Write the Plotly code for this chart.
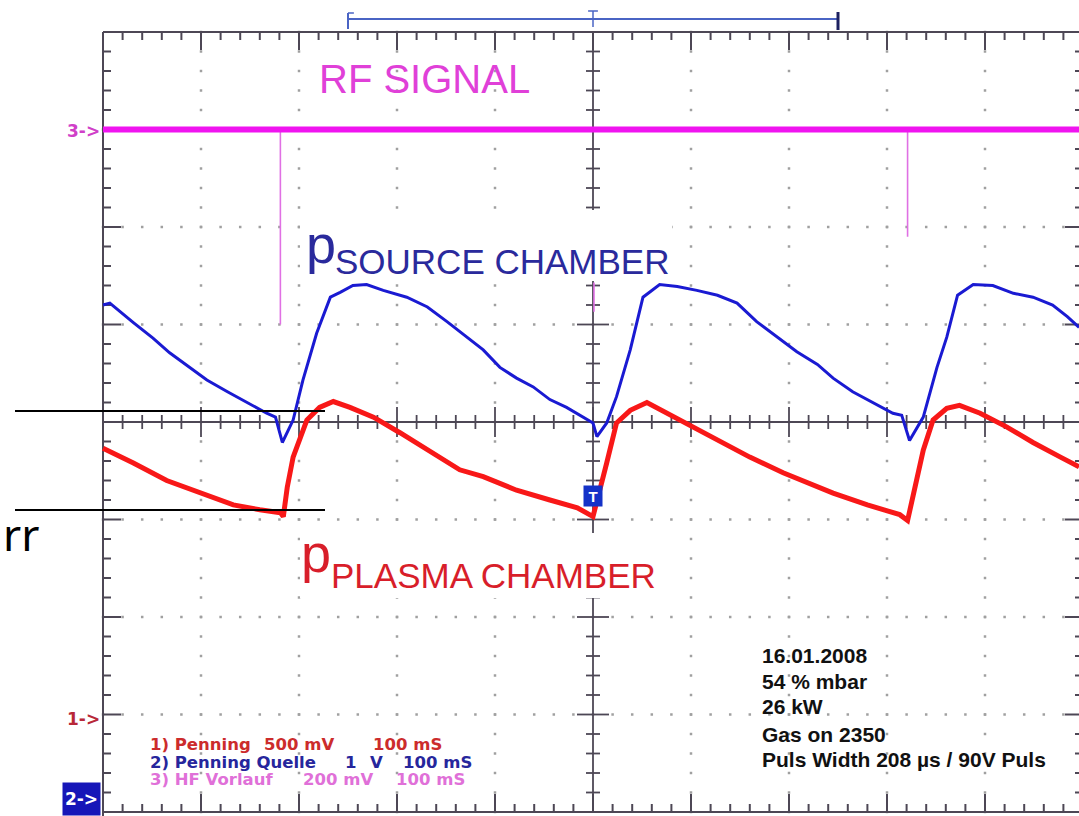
import numpy as np
import plotly.graph_objects as go

# ---------------- data (screen divisions: x = time div, y = vertical div) -------------
blue_x = [0.00, 0.07, 0.31, 0.51, 0.68, 0.89, 1.06, 1.27, 1.47, 1.67, 1.76, 1.83, 1.94, 2.04,
          2.18, 2.32, 2.42, 2.55, 2.69, 2.86, 3.10, 3.31, 3.51, 3.71, 3.88, 4.05, 4.22, 4.39,
          4.56, 4.73, 4.90, 5.00, 5.04, 5.14, 5.24, 5.38, 5.51, 5.68, 5.86, 6.06, 6.27, 6.47,
          6.67, 6.88, 7.08, 7.29, 7.45, 7.65, 7.86, 8.06, 8.15, 8.23, 8.37, 8.51, 8.61, 8.72,
          8.88, 9.08, 9.29, 9.49, 9.69, 9.84, 9.96]
blue_y = [1.20, 1.22, 1.02, 0.86, 0.71, 0.56, 0.43, 0.31, 0.20, 0.09, 0.05, -0.21, 0.02, 0.43,
          0.91, 1.28, 1.33, 1.40, 1.41, 1.35, 1.28, 1.18, 1.03, 0.87, 0.74, 0.56, 0.45, 0.36,
          0.23, 0.15, 0.05, -0.01, -0.15, -0.01, 0.26, 0.74, 1.28, 1.41, 1.39, 1.35, 1.30, 1.22,
          1.03, 0.87, 0.72, 0.59, 0.45, 0.31, 0.20, 0.09, 0.07, -0.19, 0.05, 0.56, 0.87, 1.30,
          1.41, 1.40, 1.32, 1.28, 1.20, 1.08, 0.97]

red_x = [0.00, 0.31, 0.65, 0.99, 1.33, 1.60, 1.81, 1.84, 1.88, 1.94, 2.08, 2.21, 2.35, 2.52,
         2.76, 3.03, 3.31, 3.64, 3.88, 4.22, 4.56, 4.84, 5.00, 5.04, 5.14, 5.24, 5.38, 5.55,
         5.76, 5.99, 6.27, 6.60, 6.94, 7.11, 7.45, 7.80, 8.13, 8.21, 8.27, 8.37, 8.47, 8.61,
         8.74, 8.95, 9.22, 9.49, 9.77, 9.96]
red_y = [-0.27, -0.42, -0.60, -0.73, -0.85, -0.90, -0.93, -0.97, -0.67, -0.36, 0.02, 0.15, 0.21,
         0.15, 0.05, -0.11, -0.29, -0.49, -0.56, -0.70, -0.80, -0.88, -0.97, -0.80, -0.42, -0.01,
         0.12, 0.20, 0.09, -0.03, -0.19, -0.36, -0.52, -0.59, -0.73, -0.85, -0.95, -1.01, -0.73,
         -0.29, 0.02, 0.14, 0.17, 0.09, -0.05, -0.21, -0.36, -0.46]

rf_x = [0.00, 9.96]
rf_y = [3.00, 3.00]
spike_x = [1.81, 5.01, 8.21]
spike_top = [3.00, 1.43, 3.00]
spike_bottom = [1.00, 1.13, 1.90]

legend_lines = [
    (["1) Penning", "500 mV", "100 mS"], [0.46, 1.62, 2.73], "#cc2c2c"),
    (["2) Penning Quelle", "1", "V", "100 mS"], [0.46, 2.45, 2.70, 3.04], "#26269c"),
    (["3) HF Vorlauf", "200 mV", "100 mS"], [0.46, 2.02, 2.97], "#e070d8"),
]
legend_y = [-3.31, -3.49, -3.67]

info_lines = ["16.01.2008", "54 % mbar", "26 kW", "Gas on 2350", "Puls Width 208 µs / 90V Puls"]
info_y = [-2.39, -2.66, -2.92, -3.20, -3.46]

# ---------------- geometry ----------------
PXX, PXY = 98.0, 97.5           # pixels per division
XR = [-103 / PXX, 976 / PXX]
YR = [-394 / PXY, 422 / PXY]
NDX, NDY = 10, 4
FRAME = "#4d4755"
DOT = "#a0a0a0"

fig = go.Figure()

# dotted graticule
dx, dy = [], []
minor_y = np.round(np.arange(-NDY, NDY + 1e-9, 0.2), 2)
minor_x = np.round(np.arange(0, NDX + 1e-9, 0.2), 2)
for gx in [1, 2, 3, 4, 6, 7, 8, 9]:
    for v in minor_y:
        dx.append(gx); dy.append(v)
for gy in [-3, -2, -1, 1, 2, 3]:
    for v in minor_x:
        dx.append(v); dy.append(gy)
fig.add_trace(go.Scatter(x=dx, y=dy, mode="markers", hoverinfo="skip",
                         marker=dict(symbol="square", size=2.5, color=DOT, line=dict(width=0))))

# frame + ticks
fx, fy = [], []
def seg(x0, y0, x1, y1):
    fx.extend([x0, x1, None]); fy.extend([y0, y1, None])

seg(0, -NDY - 0.2, 0, NDY)
seg(0, NDY, NDX, NDY)
seg(0, -NDY, NDX, -NDY)
seg(NDX, -NDY, NDX, NDY)
for v in minor_y:
    L = 18 if abs(v - round(v)) < 1e-6 else 8
    seg(0, v, L / PXX, v)
    seg(NDX, v, NDX - L / PXX, v)
for v in minor_x:
    L = 18 if abs(v - round(v)) < 1e-6 else 8
    seg(v, NDY, v, NDY - L / PXY)
    seg(v, -NDY, v, -NDY + L / PXY)
fig.add_trace(go.Scatter(x=fx, y=fy, mode="lines", hoverinfo="skip",
                         line=dict(color=FRAME, width=2)))

# centre axes
cx, cy = [], []
def cseg(x0, y0, x1, y1):
    cx.extend([x0, x1, None]); cy.extend([y0, y1, None])
cseg(NDX / 2, -NDY, NDX / 2, NDY)
cseg(0, 0, NDX, 0)
for v in minor_y:
    L = 16 if abs(v - round(v)) < 1e-6 else 7
    cseg(NDX / 2 - L / PXX, v, NDX / 2 + L / PXX, v)
for v in minor_x:
    L = 15 if abs(v - round(v)) < 1e-6 else 7
    cseg(v, -L / PXY, v, L / PXY)
fig.add_trace(go.Scatter(x=cx, y=cy, mode="lines", hoverinfo="skip",
                         line=dict(color=FRAME, width=1.8)))

# RF signal
sx, sy = [], []
for x, t, b in zip(spike_x, spike_top, spike_bottom):
    sx.extend([x, x, None]); sy.extend([t, b, None])
fig.add_trace(go.Scatter(x=sx, y=sy, mode="lines", hoverinfo="skip",
                         line=dict(color="#e070e4", width=1.6)))
fig.add_trace(go.Scatter(x=rf_x, y=rf_y, mode="lines", hoverinfo="skip",
                         line=dict(color="#f014f0", width=6)))

# pressure traces
fig.add_trace(go.Scatter(x=blue_x, y=blue_y, mode="lines", hoverinfo="skip",
                         line=dict(color="#1a1ad2", width=3)))
fig.add_trace(go.Scatter(x=red_x, y=red_y, mode="lines", hoverinfo="skip",
                         line=dict(color="#f81818", width=5)))

# ---------------- shapes ----------------
def px2x(p):
    return (p - 103) / PXX
def px2y(p):
    return (422 - p) / PXY

shapes = []
# opaque label backgrounds
shapes.append(dict(type="rect", x0=px2x(300), x1=px2x(672), y0=px2y(281), y1=px2y(210),
                   fillcolor="white", line=dict(width=0), layer="above"))
shapes.append(dict(type="rect", x0=px2x(300), x1=px2x(662), y0=px2y(598), y1=px2y(533),
                   fillcolor="white", line=dict(width=0), layer="above"))
# black overlay lines
for yy in [px2y(411), px2y(510)]:
    shapes.append(dict(type="line", x0=px2x(15), x1=px2x(325), y0=yy, y1=yy,
                       line=dict(color="black", width=2), layer="above"))
# time window bar at top
bar_y = px2y(19)
shapes.append(dict(type="line", x0=2.5, x1=7.5, y0=bar_y, y1=bar_y,
                   line=dict(color="#4a64c4", width=2), layer="above"))
shapes.append(dict(type="line", x0=2.5, x1=2.5, y0=px2y(13), y1=px2y(29),
                   line=dict(color="#4a64c4", width=2), layer="above"))
shapes.append(dict(type="line", x0=2.5, x1=2.56, y0=px2y(13), y1=px2y(13),
                   line=dict(color="#4a64c4", width=1.5), layer="above"))
shapes.append(dict(type="line", x0=7.5, x1=7.5, y0=px2y(12), y1=px2y(30),
                   line=dict(color="#1c2060", width=3), layer="above"))
shapes.append(dict(type="line", x0=5.0, x1=5.0, y0=px2y(11), y1=px2y(27),
                   line=dict(color="#4a64c4", width=1.5), layer="above"))
shapes.append(dict(type="line", x0=4.95, x1=5.05, y0=px2y(11), y1=px2y(11),
                   line=dict(color="#4a64c4", width=1.5), layer="above"))

# ---------------- annotations ----------------
SANS = "Liberation Sans, Arial, sans-serif"
DJ = "DejaVu Sans, Verdana, sans-serif"
ann = []
def label(text, x, y, size, color, family=SANS, xanchor="left", weight="normal", **kw):
    d = dict(text=text, x=x, y=y, xref="x", yref="y", showarrow=False,
             xanchor=xanchor, yanchor="middle",
             font=dict(family=family, size=size, color=color, weight=weight))
    d.update(kw)
    ann.append(d)

label("RF SIGNAL", px2x(424), px2y(79), 40, "#e040d8", xanchor="center")
label("p", px2x(304), px2y(244), 54, "#2a2a9c")
label("SOURCE CHAMBER", px2x(333), px2y(261), 35, "#2a2a9c")
label("p", px2x(299), px2y(553), 54, "#d81e2a")
label("PLASMA CHAMBER", px2x(329), px2y(575), 35, "#d81e2a")

label("3->", px2x(102), px2y(131), 17, "#d040c8", family=DJ, xanchor="right", weight="bold")
label("1->", px2x(102), px2y(719), 17, "#b82838", family=DJ, xanchor="right", weight="bold")
label("2->", px2x(81), px2y(799), 17, "white", family=DJ, xanchor="center", weight="bold",
      bgcolor="#1616b8", width=37, height=32, borderpad=0)
label("T", 5.0, px2y(496), 15, "white", family=SANS, xanchor="center", weight="bold",
      bgcolor="#1432c8", width=18, height=20, borderpad=0)
label("rr", px2x(1), px2y(534), 44, "black", family="Noto Sans, sans-serif", xanchor="left")

for (chunks, xs, col), yy in zip(legend_lines, legend_y):
    for t, xx in zip(chunks, xs):
        label(t, xx, yy, 16.5, col, family=DJ, weight="bold")

for t, yy in zip(info_lines, info_y):
    label(t, px2x(760), yy, 21, "#111111", weight="bold")

fig.update_layout(
    width=1079, height=816,
    margin=dict(l=0, r=0, t=0, b=0),
    paper_bgcolor="white", plot_bgcolor="white",
    showlegend=False,
    xaxis=dict(range=XR, visible=False, fixedrange=True),
    yaxis=dict(range=YR, visible=False, fixedrange=True),
    shapes=shapes, annotations=ann,
)
fig.write_html("out.html")
